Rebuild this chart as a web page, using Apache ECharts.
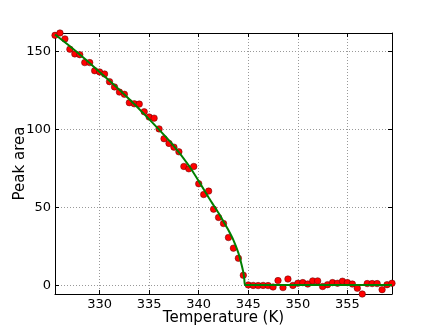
<!DOCTYPE html>
<html>
<head>
<meta charset="utf-8">
<script src="https://cdn.jsdelivr.net/npm/echarts@6/dist/echarts.min.js"></script>
<style>
html, body { margin: 0; padding: 0; background: #fff; }
#chart { width: 436px; height: 327px; }
</style>
</head>
<body>
<div id="chart"></div>
<script>
// measured peak areas, one every 0.5 K
var temps = [
  325.5, 326.0, 326.5, 327.0, 327.5, 328.0, 328.5, 329.0, 329.5, 330.0,
  330.5, 331.0, 331.5, 332.0, 332.5, 333.0, 333.5, 334.0, 334.5, 335.0,
  335.5, 336.0, 336.5, 337.0, 337.5, 338.0, 338.5, 339.0, 339.5, 340.0,
  340.5, 341.0, 341.5, 342.0, 342.5, 343.0, 343.5, 344.0, 344.5, 345.0,
  345.5, 346.0, 346.5, 347.0, 347.5, 348.0, 348.5, 349.0, 349.5, 350.0,
  350.5, 351.0, 351.5, 352.0, 352.5, 353.0, 353.5, 354.0, 354.5, 355.0,
  355.5, 356.0, 356.5, 357.0, 357.5, 358.0, 358.5, 359.0, 359.5
];
var areas = [
  160.5, 162.0, 158.2, 151.6, 148.6, 148.1, 143.0, 143.0, 137.8, 137.0,
  135.7, 130.8, 127.4, 124.1, 122.7, 117.3, 116.6, 116.4, 111.5, 108.1,
  107.4, 100.5, 94.2, 91.2, 88.8, 85.8, 76.4, 74.9, 76.4, 65.3,
  58.4, 60.6, 49.0, 43.7, 39.8, 30.8, 24.0, 17.5, 6.6, 0.4,
  0.1, 0.0, 0.1, 0.0, -0.9, 3.2, -1.3, 4.2, 0.1, 1.5,
  1.9, 1.0, 3.0, 3.0, -0.6, 0.6, 1.9, 1.5, 2.8, 1.9,
  1.0, -1.7, -5.4, 1.3, 1.3, 1.3, -2.6, 0.6, 1.5
];

// fitted curve (green line)
var fitTemps = [325.5, 327, 328.5, 330, 331.5, 333, 334.5, 336, 337.5, 339,
  340, 341, 341.5, 342, 342.5, 343, 343.5, 344, 344.3, 344.5, 344.6, 344.7, 359.5];
var fitAreas = [161, 153.5, 145.5, 137, 128.5, 119.5, 110, 100, 89.5, 77,
  67, 56.5, 51.5, 46.5, 41, 35.5, 29.2, 21, 14, 8.5, 4, 0.3, 0.3];

var xTicks = [330, 335, 340, 345, 350, 355];
var yTicks = [0, 50, 100, 150];

var points = temps.map(function (t, i) { return [t, areas[i]]; });
var fit = fitTemps.map(function (t, i) { return [t, fitAreas[i]]; });

var font = 'DejaVu Sans';
var frame = { show: true, onZero: false, lineStyle: { color: '#000', width: 1 } };
var grid = { show: true, lineStyle: { color: '#999', type: [1, 2], width: 1 } };

var option = {
  animation: false,
  backgroundColor: '#fff',
  grid: { left: 55, right: 44, top: 33, bottom: 33, outerBoundsMode: 'none', containLabel: false },
  xAxis: [
    {
      type: 'value', position: 'bottom', min: 325.5, max: 359.5,
      name: 'Temperature (K)', nameLocation: 'middle', nameGap: 17, nameMoveOverlap: false,
      nameTextStyle: { fontFamily: font, fontSize: 15, color: '#000' },
      axisLine: frame,
      axisTick: { inside: true, length: 4, customValues: xTicks, lineStyle: { color: '#000' } },
      axisLabel: { customValues: xTicks, fontFamily: font, fontSize: 13, color: '#000', margin: 4 },
      splitLine: grid
    },
    {
      type: 'value', position: 'top', min: 325.5, max: 359.5,
      axisLine: frame,
      axisTick: { inside: true, length: 4, customValues: xTicks, lineStyle: { color: '#000' } },
      axisLabel: { show: false },
      splitLine: { show: false }
    }
  ],
  yAxis: [
    {
      type: 'value', position: 'left', min: -5.4, max: 162,
      name: 'Peak area', nameLocation: 'middle', nameGap: 27, nameMoveOverlap: false,
      nameTextStyle: { fontFamily: font, fontSize: 15, color: '#000' },
      axisLine: frame,
      axisTick: { inside: true, length: 4, customValues: yTicks, lineStyle: { color: '#000' } },
      axisLabel: { customValues: yTicks, fontFamily: font, fontSize: 13, color: '#000', margin: 4 },
      splitLine: grid
    },
    {
      type: 'value', position: 'right', min: -5.4, max: 162,
      axisLine: frame,
      axisTick: { inside: true, length: 4, customValues: yTicks, lineStyle: { color: '#000' } },
      axisLabel: { show: false },
      splitLine: { show: false }
    }
  ],
  series: [
    {
      type: 'scatter',
      data: points,
      symbolSize: 6.5,
      itemStyle: { color: '#ff0000', borderColor: '#5a0000', borderWidth: 0.5, opacity: 1 },
      z: 2
    },
    {
      type: 'line',
      data: fit,
      smooth: 0.2,
      showSymbol: false,
      lineStyle: { color: '#008000', width: 2 },
      z: 3
    }
  ]
};

var myChart = echarts.init(document.getElementById('chart'));
myChart.setOption(option);
</script>
</body>
</html>
